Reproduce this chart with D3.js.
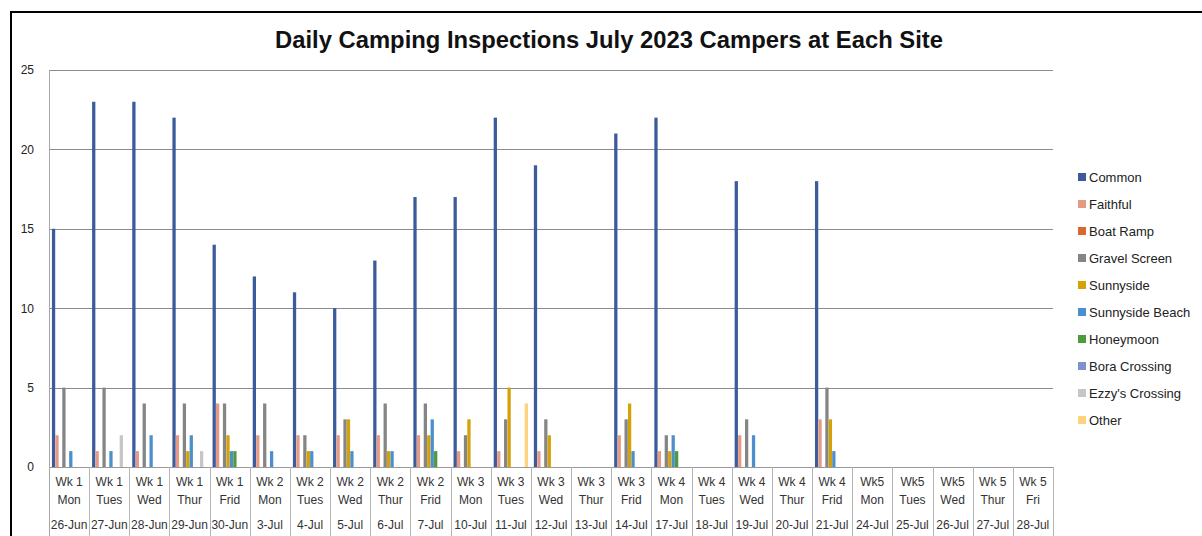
<!DOCTYPE html>
<html>
<head>
<meta charset="utf-8">
<script src="https://cdn.jsdelivr.net/npm/d3@7"></script>
<style>
  body { margin: 0; background: #fff; }
  text { font-family: "Liberation Sans", Arial, sans-serif; }
</style>
</head>
<body>
<div id="chart"></div>
<script>
// category labels (three rows under the axis)
var weeks = ["Wk 1","Wk 1","Wk 1","Wk 1","Wk 1","Wk 2","Wk 2","Wk 2","Wk 2","Wk 2",
             "Wk 3","Wk 3","Wk 3","Wk 3","Wk 3","Wk 4","Wk 4","Wk 4","Wk 4","Wk 4",
             "Wk5","Wk5","Wk5","Wk 5","Wk 5"];
var days = ["Mon","Tues","Wed","Thur","Frid","Mon","Tues","Wed","Thur","Frid",
            "Mon","Tues","Wed","Thur","Frid","Mon","Tues","Wed","Thur","Frid",
            "Mon","Tues","Wed","Thur","Fri"];
var dates = ["26-Jun","27-Jun","28-Jun","29-Jun","30-Jun","3-Jul","4-Jul","5-Jul","6-Jul","7-Jul",
             "10-Jul","11-Jul","12-Jul","13-Jul","14-Jul","17-Jul","18-Jul","19-Jul","20-Jul","21-Jul",
             "24-Jul","25-Jul","26-Jul","27-Jul","28-Jul"];

var sites = ["Common","Faithful","Boat Ramp","Gravel Screen","Sunnyside","Sunnyside Beach",
             "Honeymoon","Bora Crossing","Ezzy's Crossing","Other"];
var colours = ["#3b5b9b","#e69a85","#d8682d","#858585","#d4a107","#4c8fcd",
               "#4f9a3b","#7f92cf","#c6c6c6","#ffd27d"];

// campers per site per day
var common     = [15,23,23,22,14,12,11,10,13,17,17,22,19,0,21,22,0,18,0,18,0,0,0,0,0];
var faithful   = [2,1,1,2,4,2,2,2,2,2,1,1,1,0,2,1,0,2,0,3,0,0,0,0,0];
var boatRamp   = [0,0,0,0,0,0,0,0,0,0,0,0,0,0,0,0,0,0,0,0,0,0,0,0,0];
var gravel     = [5,5,4,4,4,4,2,3,4,4,2,3,3,0,3,2,0,3,0,5,0,0,0,0,0];
var sunnyside  = [0,0,0,1,2,0,1,3,1,2,3,5,2,0,4,1,0,0,0,3,0,0,0,0,0];
var sunnyBeach = [1,1,2,2,1,1,1,1,1,3,0,0,0,0,1,2,0,2,0,1,0,0,0,0,0];
var honeymoon  = [0,0,0,0,1,0,0,0,0,1,0,0,0,0,0,1,0,0,0,0,0,0,0,0,0];
var bora       = [0,0,0,0,0,0,0,0,0,0,0,0,0,0,0,0,0,0,0,0,0,0,0,0,0];
var ezzy       = [0,2,0,1,0,0,0,0,0,0,0,0,0,0,0,0,0,0,0,0,0,0,0,0,0];
var other      = [0,0,0,0,0,0,0,0,0,0,0,4,0,0,0,0,0,0,0,0,0,0,0,0,0];

var yTicks = [0, 5, 10, 15, 20, 25];

var seriesValues = [common, faithful, boatRamp, gravel, sunnyside, sunnyBeach, honeymoon, bora, ezzy, other];

var W = 1202, H = 536;
var plotLeft = 49, plotRight = 1053, plotTop = 70, plotBottom = 467;

var svg = d3.select("#chart").append("svg").attr("width", W).attr("height", H);

// outer frame
svg.append("rect").attr("x", 11).attr("y", 12).attr("width", 1300).attr("height", 700)
    .attr("fill", "none").attr("stroke", "#000").attr("stroke-width", 2);

svg.append("text").attr("x", 609).attr("y", 48).attr("text-anchor", "middle")
    .attr("font-size", 23.8).attr("font-weight", "bold").attr("fill", "#111")
    .text("Daily Camping Inspections July 2023 Campers at Each Site");

var x0 = d3.scaleBand().domain(dates).range([plotLeft, plotRight]).padding(0);
var x1 = d3.scaleBand().domain(sites).range([0, x0.bandwidth()]).paddingInner(0.05).paddingOuter(0.85);
var y = d3.scaleLinear().domain([0, 25]).range([plotBottom, plotTop]);

// gridlines
svg.append("g").selectAll("line").data(yTicks).join("line")
    .attr("x1", plotLeft).attr("x2", plotRight)
    .attr("y1", d => Math.round(y(d)) + 0.5).attr("y2", d => Math.round(y(d)) + 0.5)
    .attr("stroke", d => d === 0 ? "#999" : "#8c8c8c").attr("stroke-width", 1);

svg.append("line").attr("x1", plotLeft + 0.5).attr("x2", plotLeft + 0.5).attr("y1", plotTop).attr("y2", H)
    .attr("stroke", "#a6a6a6");

// y axis labels
var yAxis = d3.axisLeft(y).tickValues(yTicks).tickSize(0).tickPadding(0);
var yg = svg.append("g").attr("transform", "translate(34,0)").call(yAxis);
yg.select(".domain").remove();
yg.selectAll("text").attr("font-size", 12).attr("fill", "#222")
    .attr("font-family", "'Liberation Sans', Arial, sans-serif");

// bars
var groups = svg.append("g").selectAll("g").data(dates).join("g")
    .attr("transform", d => "translate(" + x0(d) + ",0)");

groups.selectAll("rect")
    .data((d, i) => sites.map((s, j) => ({ site: s, value: seriesValues[j][i], colour: colours[j] })))
    .join("rect")
    .attr("x", d => x1(d.site))
    .attr("width", x1.bandwidth())
    .attr("y", d => y(d.value))
    .attr("height", d => y(0) - y(d.value))
    .attr("fill", d => d.colour);

// category table
var cat = svg.append("g");
cat.selectAll("line").data(dates).join("line")
    .attr("x1", d => Math.round(x0(d) + x0.bandwidth()) + 0.5)
    .attr("x2", d => Math.round(x0(d) + x0.bandwidth()) + 0.5)
    .attr("y1", plotBottom).attr("y2", H)
    .attr("stroke", "#b5b5b5");

var labels = cat.selectAll("g.lab").data(dates).join("g").attr("class", "lab")
    .attr("transform", d => "translate(" + (x0(d) + x0.bandwidth() / 2) + ",0)");
labels.append("text").attr("y", 486).text((d, i) => weeks[i]);
labels.append("text").attr("y", 504).text((d, i) => days[i]);
labels.append("text").attr("y", 529).text(d => d);
labels.selectAll("text").attr("text-anchor", "middle").attr("font-size", 12).attr("fill", "#333");

// legend
var legend = svg.append("g").attr("transform", "translate(1078,177)");
var item = legend.selectAll("g").data(sites).join("g")
    .attr("transform", (d, i) => "translate(0," + i * 27 + ")");
item.append("rect").attr("x", 0).attr("y", -4).attr("width", 8).attr("height", 8)
    .attr("fill", (d, i) => colours[i]);
item.append("text").attr("x", 11).attr("y", 4.5).attr("font-size", 13).attr("fill", "#222")
    .text(d => d);
</script>
</body>
</html>
